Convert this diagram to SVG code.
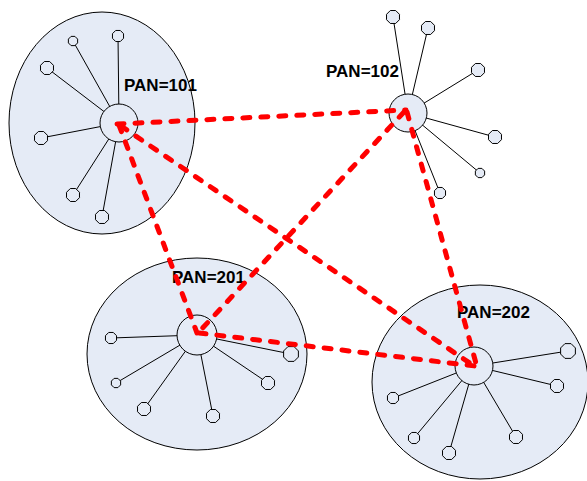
<svg xmlns="http://www.w3.org/2000/svg" xmlns:xlink="http://www.w3.org/1999/xlink" width="587" height="481" viewBox="0 0 587 481">
<style>
.area{fill:#e5ebf6;stroke:#000;stroke-width:1}
.hub{fill:#e5ebf6;stroke:#000;stroke-width:1}
.spoke{stroke:#000;stroke-width:1;fill:none}
.leaf{fill:#e5ebf6;stroke:#000;stroke-width:1}
.lbl{font-family:"Liberation Sans",Arial,sans-serif;font-weight:bold;font-size:17px;fill:#000}
.link{stroke:#ff0000;stroke-width:5;fill:none;stroke-dasharray:7 11;stroke-linecap:round}
</style>
<defs>
<polygon id="o5" class="leaf" points="4.62,1.91 1.91,4.62 -1.91,4.62 -4.62,1.91 -4.62,-1.91 -1.91,-4.62 1.91,-4.62 4.62,-1.91"/>
<polygon id="o6" class="leaf" points="5.54,2.3 2.3,5.54 -2.3,5.54 -5.54,2.3 -5.54,-2.3 -2.3,-5.54 2.3,-5.54 5.54,-2.3"/>
<polygon id="o7" class="leaf" points="6.47,2.68 2.68,6.47 -2.68,6.47 -6.47,2.68 -6.47,-2.68 -2.68,-6.47 2.68,-6.47 6.47,-2.68"/>
<polygon id="o8" class="leaf" points="7.39,3.06 3.06,7.39 -3.06,7.39 -7.39,3.06 -7.39,-3.06 -3.06,-7.39 3.06,-7.39 7.39,-3.06"/>
</defs>

<g id="pan101">
<ellipse class="area" cx="102" cy="123" rx="93" ry="111"/>
<path class="spoke" d="M119,123L118,36M119,123L73,41M119,123L47,68M119,123L41,138M119,123L73,195M119,123L102,217"/>
<use href="#o6" x="118" y="36"/>
<use href="#o5" x="73" y="41"/>
<use href="#o7" x="47" y="68"/>
<use href="#o7" x="41" y="138"/>
<use href="#o7" x="73" y="195"/>
<use href="#o7" x="102" y="217"/>
<circle class="hub" cx="119" cy="123" r="19"/>
<text class="lbl" x="124" y="91">PAN=101</text>
</g>

<g id="pan102">
<path class="spoke" d="M408,113L393,17M408,113L428,28M408,113L478,70M408,113L495,137M408,113L480,173M408,113L440,193"/>
<use href="#o7" x="393" y="17"/>
<use href="#o7" x="428" y="28"/>
<use href="#o7" x="478" y="70"/>
<use href="#o7" x="495" y="137"/>
<use href="#o5" x="480" y="173"/>
<use href="#o6" x="440" y="193"/>
<circle class="hub" cx="408" cy="113" r="19"/>
<text class="lbl" x="326" y="77">PAN=102</text>
</g>

<g id="pan201">
<ellipse class="area" cx="197" cy="354" rx="110" ry="96"/>
<path class="spoke" d="M197,335L111,338M197,335L116,383M197,335L144,409M197,335L213,416M197,335L268,383M197,335L291,354"/>
<use href="#o6" x="111" y="338"/>
<use href="#o5" x="116" y="383"/>
<use href="#o7" x="144" y="409"/>
<use href="#o7" x="213" y="416"/>
<use href="#o7" x="268" y="383"/>
<use href="#o8" x="291" y="354"/>
<circle class="hub" cx="197" cy="335" r="20"/>
<text class="lbl" x="172" y="283">PAN=201</text>
</g>

<g id="pan202">
<ellipse class="area" cx="480" cy="382" rx="108" ry="97"/>
<path class="spoke" d="M474,366L568,351M474,366L557,386M474,366L393,398M474,366L414,438M474,366L449,453M474,366L516,437"/>
<use href="#o8" x="568" y="351"/>
<use href="#o7" x="557" y="386"/>
<use href="#o6" x="393" y="398"/>
<use href="#o6" x="414" y="438"/>
<use href="#o7" x="449" y="453"/>
<use href="#o7" x="516" y="437"/>
<circle class="hub" cx="474" cy="366" r="19"/>
<text class="lbl" x="457" y="318">PAN=202</text>
</g>

<g id="connectors">
<line class="link" x1="117" y1="124" x2="406" y2="110"/>
<line class="link" x1="119" y1="125" x2="197" y2="333"/>
<line class="link" x1="121" y1="126" x2="477" y2="368"/>
<line class="link" x1="404" y1="112" x2="197" y2="334"/>
<line class="link" x1="407" y1="112" x2="477" y2="367"/>
<line class="link" x1="199" y1="333" x2="475" y2="366"/>
</g>
</svg>
